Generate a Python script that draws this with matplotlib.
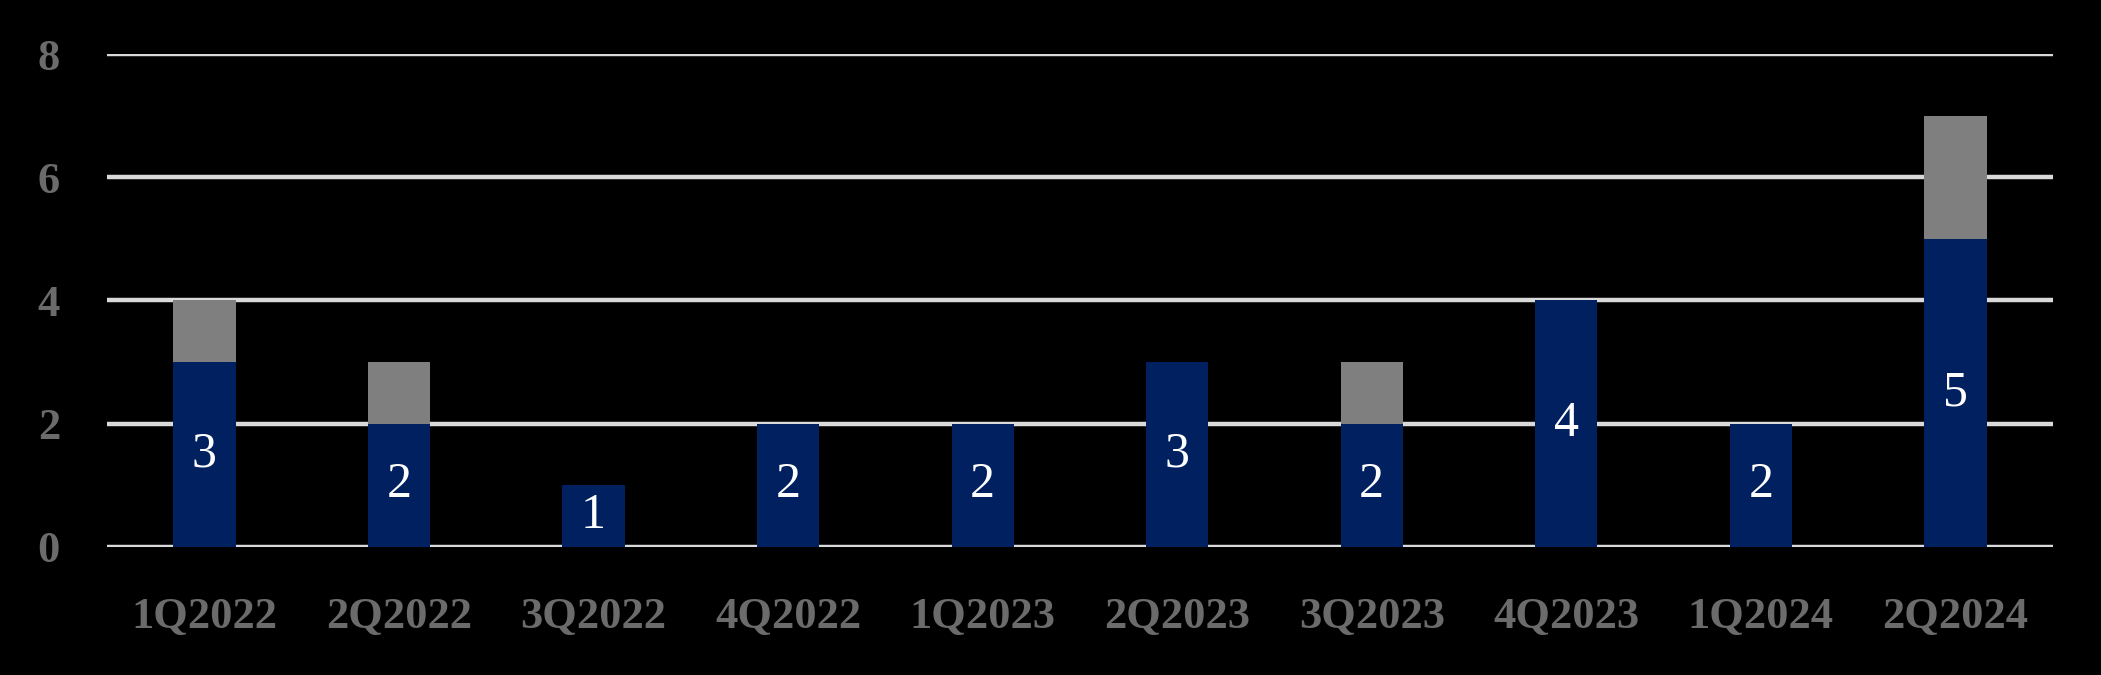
import numpy as np
import matplotlib.pyplot as plt

quarters = ['1Q2022', '2Q2022', '3Q2022', '4Q2022', '1Q2023',
            '2Q2023', '3Q2023', '4Q2023', '1Q2024', '2Q2024']
navy_vals = [3, 2, 1, 2, 2, 3, 2, 4, 2, 5]
grey_vals = [1, 1, 0, 0, 0, 0, 1, 0, 0, 2]
y_ticks = [0, 2, 4, 6, 8]

navy = '#002060'
grey = '#7f7f7f'

plt.rcParams['font.family'] = ['Liberation Serif', 'DejaVu Serif']

fig = plt.figure(figsize=(21.01, 6.75), dpi=100, facecolor='black')
ax = fig.add_axes([0.051, 0.190, 0.926, 0.730])
ax.set_facecolor('black')

x = np.arange(len(quarters))
w = 0.32
ax.bar(x, navy_vals, w, color=navy, zorder=2)
ax.bar(x, grey_vals, w, bottom=navy_vals, color=grey, zorder=2)

for xi, v in zip(x, navy_vals):
    ax.text(xi, v / 2, str(v), color='white', ha='center', va='center',
            fontsize=36, zorder=3)

ax.set_xlim(-0.5, len(quarters) - 0.5)
ax.set_ylim(0, 8)
ax.set_yticks(y_ticks)
ax.set_xticks(x)
ax.set_xticklabels(quarters)
ax.grid(axis='y', color='#d9d9d9', linewidth=3.2)
ax.set_axisbelow(True)
ax.tick_params(axis='both', length=0, colors='#6b6b6b', labelsize=32)
ax.tick_params(axis='y', pad=34)
ax.tick_params(axis='x', pad=36)
for lab in ax.get_xticklabels() + ax.get_yticklabels():
    lab.set_fontweight('bold')
for s in ax.spines.values():
    s.set_visible(False)

fig.savefig('out.png', dpi=100, facecolor='black')
